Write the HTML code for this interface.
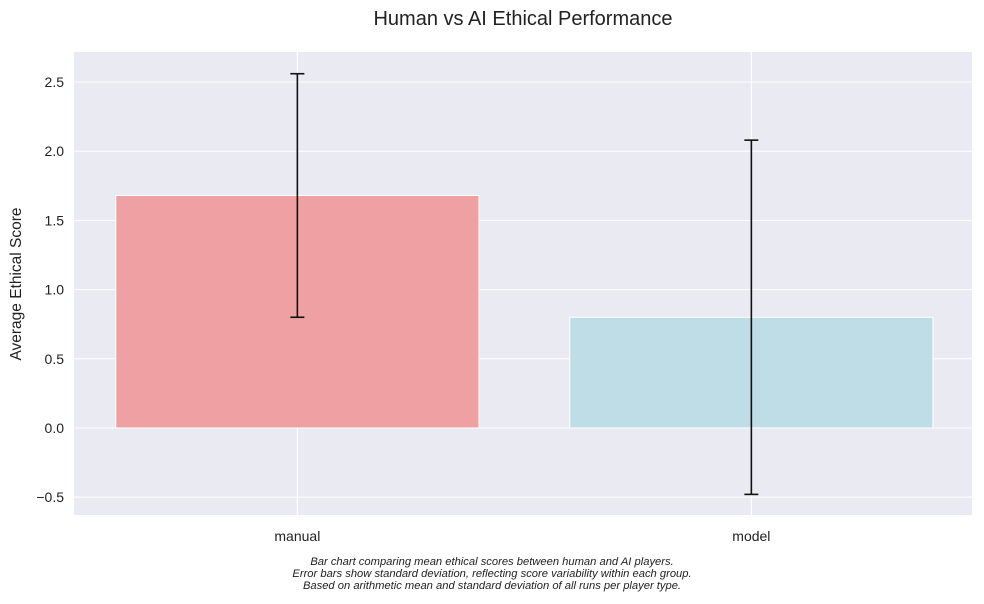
<!DOCTYPE html>
<html><head><meta charset="utf-8"><style>
body{margin:0;background:#fff;font-family:"Liberation Sans",sans-serif;}
svg text{font-family:"Liberation Sans",sans-serif;}
</style></head><body>
<svg id="chart" width="984" height="599">
<text x="523" y="25" text-anchor="middle" font-size="20" fill="#222">Human vs AI Ethical Performance</text>
<g id="plot"></g>
<text transform="translate(21,284) rotate(-90)" text-anchor="middle" font-size="15.5" fill="#222">Average Ethical Score</text>
<g font-size="11.2" font-style="italic" fill="#222" text-anchor="middle">
<text x="492" y="565">Bar chart comparing mean ethical scores between human and AI players.</text>
<text x="492" y="577">Error bars show standard deviation, reflecting score variability within each group.</text>
<text x="492" y="589">Based on arithmetic mean and standard deviation of all runs per player type.</text>
</g>
</svg>
<script>
const categories=["manual","model"];
const means=[1.68,0.80];
const stds=[0.88,1.28];
const yTicks=[-0.5,0.0,0.5,1.0,1.5,2.0,2.5];
const colors=["#eea0a3","#bfdde6"];
const L=74,R=972,T=52,B=515,ymin=-0.629,ymax=2.717,xmin=-0.492,xmax=1.486;
const ys=v=>B-(v-ymin)/(ymax-ymin)*(B-T);
const xs=v=>L+(v-xmin)/(xmax-xmin)*(R-L);
const NS="http://www.w3.org/2000/svg";
const g=document.getElementById("plot");
function mk(t,a){const e=document.createElementNS(NS,t);for(const k in a)e.setAttribute(k,a[k]);g.appendChild(e);return e;}
let bg=mk("rect",{x:L,y:T,width:R-L,height:B-T,fill:"#eaeaf2"});


yTicks.forEach(v=>{
 let l=mk("line",{x1:L,x2:R,y1:ys(v),y2:ys(v),stroke:"#fff","stroke-width":1});
 
 
 let t=mk("text",{x:L-10,y:ys(v)+5,"text-anchor":"end","font-size":14,fill:"#222"});
 t.textContent=(v<0?"\u2212":"")+Math.abs(v).toFixed(1);
 
 
});
categories.forEach((c,i)=>{
 let l=mk("line",{x1:xs(i),x2:xs(i),y1:T,y2:B,stroke:"#fff","stroke-width":1.2});
 
 
});
categories.forEach((c,i)=>{
 const x0=xs(i-0.4),x1=xs(i+0.4),yt=ys(Math.max(means[i],0)),yb=ys(Math.min(means[i],0));
 let r=mk("rect",{x:x0,y:yt,width:x1-x0,height:yb-yt,fill:colors[i],stroke:"#fff","stroke-width":1});
 
 
 const cx=xs(i),hi=ys(means[i]+stds[i]),lo=ys(means[i]-stds[i]);
 let eg=document.createElementNS(NS,"g");g.appendChild(eg);
 
 
 [[cx,hi,cx,lo],[cx-7,hi,cx+7,hi],[cx-7,lo,cx+7,lo]].forEach(p=>{
  const e=document.createElementNS(NS,"line");
  e.setAttribute("x1",p[0]);e.setAttribute("y1",p[1]);e.setAttribute("x2",p[2]);e.setAttribute("y2",p[3]);
  e.setAttribute("stroke","#111");e.setAttribute("stroke-width",1.6);eg.appendChild(e);
 });
 let t=mk("text",{x:cx,y:B+26,"text-anchor":"middle","font-size":14,fill:"#222"});
 t.textContent=c;
 
 
});
</script>
</body></html>
